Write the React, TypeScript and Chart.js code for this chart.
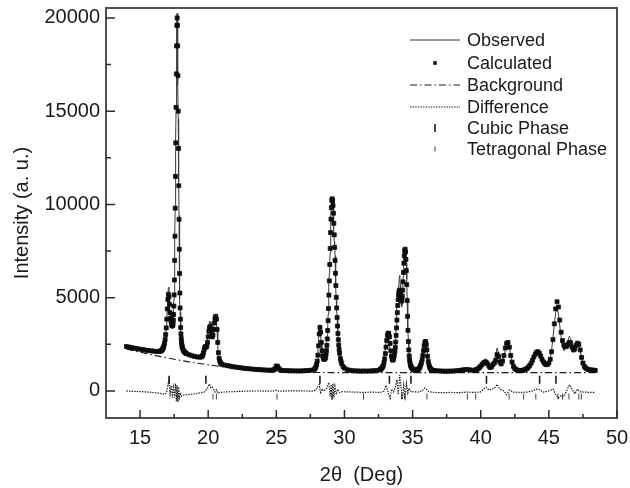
import React, { useEffect, useRef } from "react";
import { Chart, registerables } from "chart.js";

Chart.register(...registerables);

const FONT = '"Liberation Sans", Arial, Helvetica, sans-serif';
const INK = "#1a1a1a";

// 2θ sampling of the observed / calculated profile (degrees)
const twoTheta = [
  14.0, 14.2, 14.4, 14.6, 14.8, 15.0, 15.2, 15.4, 15.6, 15.8, 16.0, 16.2, 16.4,
  16.52, 16.56, 16.6, 16.64, 16.68, 16.72, 16.76, 16.8, 16.84, 16.88, 16.92, 16.96, 17.0, 17.04, 17.08, 17.12, 17.16, 17.2, 17.24, 17.28, 17.32, 17.36, 17.4,
  17.42, 17.44, 17.46, 17.48, 17.5, 17.52, 17.54, 17.56, 17.58, 17.6, 17.62, 17.64, 17.66, 17.68, 17.7, 17.72, 17.74, 17.76, 17.78, 17.8, 17.82, 17.84, 17.86, 17.88, 17.9, 17.92, 17.94, 17.96, 17.98, 18.0, 18.02, 18.04, 18.06, 18.08, 18.1,
  18.15, 18.2, 18.25, 18.3, 18.35, 18.4,
  18.6, 18.8, 19.0, 19.2, 19.4,
  19.5, 19.55, 19.6, 19.65, 19.7, 19.75, 19.8, 19.85, 19.9, 19.95, 20.0, 20.05, 20.1, 20.15, 20.2, 20.25, 20.3, 20.35, 20.4, 20.45, 20.5, 20.55, 20.6, 20.65, 20.7, 20.75, 20.8, 20.85, 20.9, 20.95, 21.0,
  21.2, 21.4, 21.6, 21.8, 22.0, 22.2, 22.4, 22.6, 22.8, 23.0, 23.2, 23.4, 23.6, 23.8, 24.0, 24.2, 24.4, 24.6,
  24.7, 24.8, 24.9, 25.0, 25.1, 25.2, 25.3, 25.4,
  25.6, 25.8, 26.0, 26.2, 26.4, 26.6, 26.8, 27.0, 27.2, 27.4, 27.6,
  27.8, 27.85, 27.9, 27.95, 28.0, 28.05, 28.1, 28.15, 28.2, 28.25, 28.3, 28.35, 28.4, 28.45, 28.5, 28.55,
  28.62, 28.65, 28.68, 28.71, 28.74, 28.77, 28.8, 28.83, 28.86, 28.89, 28.92, 28.95, 28.98, 29.01, 29.04, 29.07, 29.1, 29.13, 29.16, 29.19, 29.22, 29.25, 29.28, 29.31, 29.34, 29.37, 29.4, 29.43, 29.46, 29.49, 29.52, 29.55, 29.58, 29.61, 29.64,
  29.7, 29.75, 29.8, 29.9,
  30.0, 30.2, 30.4, 30.6, 30.8, 31.0, 31.2, 31.4, 31.6, 31.8, 32.0, 32.2, 32.4, 32.6,
  32.65, 32.7, 32.75, 32.8, 32.85, 32.9, 32.95, 33.0, 33.05, 33.1, 33.15, 33.2, 33.25, 33.3, 33.35, 33.4, 33.45, 33.5, 33.55, 33.6, 33.65,
  33.7, 33.73, 33.76, 33.79, 33.82, 33.85, 33.88, 33.91, 33.94, 33.97, 34.0, 34.03, 34.06, 34.09, 34.12, 34.15, 34.18, 34.21, 34.24, 34.27, 34.3, 34.33, 34.36, 34.39, 34.42, 34.45, 34.48, 34.51, 34.54, 34.57, 34.6, 34.63, 34.66, 34.69, 34.72, 34.75, 34.78, 34.81, 34.84, 34.87, 34.9,
  34.95, 35.0, 35.05, 35.1, 35.15, 35.2, 35.25, 35.3, 35.35, 35.4, 35.45, 35.5, 35.55, 35.6, 35.65, 35.7, 35.75, 35.8, 35.85, 35.9, 35.95, 36.0, 36.05, 36.1, 36.15, 36.2, 36.25, 36.3, 36.35, 36.4, 36.5, 36.6,
  36.8, 37.0, 37.2, 37.4, 37.6, 37.8, 38.0, 38.2, 38.4, 38.6, 38.8, 39.0, 39.2, 39.4, 39.6,
  39.7, 39.8, 39.9, 40.0, 40.1, 40.2, 40.3, 40.4, 40.5, 40.6,
  40.7, 40.8, 40.9, 41.0, 41.1, 41.2, 41.3, 41.4, 41.5, 41.6,
  41.7, 41.8, 41.9, 42.0, 42.1, 42.2, 42.3, 42.4, 42.5, 42.6,
  42.7, 42.8, 42.9, 43.0, 43.1, 43.2, 43.3, 43.4, 43.5, 43.6,
  43.7, 43.8, 43.9, 44.0, 44.1, 44.2, 44.3, 44.4, 44.5, 44.6,
  44.7, 44.8, 44.9, 45.0, 45.1, 45.2, 45.3, 45.4, 45.5, 45.6,
  45.7, 45.8, 45.9, 46.0, 46.1, 46.2, 46.3, 46.4, 46.5, 46.6,
  46.7, 46.8, 46.9, 47.0, 47.1, 47.2, 47.3, 47.4, 47.5, 47.6,
  47.7, 47.8, 47.9, 48.0, 48.1, 48.2, 48.3, 48.4,
];

const calculated = [
  2380, 2350, 2320, 2290, 2265, 2240, 2215, 2190, 2170, 2150, 2135, 2120, 2120,
  2140, 2160, 2190, 2230, 2280, 2350, 2440, 2570, 2760, 3020, 3380, 3850, 4400, 4900, 5180, 5050, 4650, 4200, 3900, 3700, 3550, 3480, 3520,
  3620, 3800, 4100, 4550, 5150, 5950, 7000, 8300, 9800, 11500, 13300, 15200, 17000, 18500, 19600, 20000, 19600, 18500, 16900, 15000, 13000, 11000, 9200, 7600, 6300, 5250, 4450, 3850, 3400, 3060, 2820, 2640, 2510, 2410, 2330,
  2220, 2150, 2100, 2060, 2030, 2000,
  1940, 1890, 1850, 1820, 1810,
  1830, 1860, 1920, 2030, 2200, 2340, 2380, 2350, 2400, 2600, 2900, 3200, 3400, 3450, 3300, 3050, 2900, 3000, 3300, 3650, 3900, 4000, 3850, 3300, 2600, 2050, 1750, 1600, 1510, 1460, 1430,
  1390, 1360, 1330, 1300, 1280, 1260, 1240, 1220, 1200, 1190, 1175, 1160, 1150, 1140, 1130, 1120, 1115, 1110,
  1110, 1125, 1190, 1340, 1320, 1190, 1120, 1095,
  1090, 1085, 1080, 1075, 1075, 1070, 1075, 1080, 1090, 1100, 1120,
  1160, 1210, 1290, 1410, 1600, 1920, 2420, 3050, 3400, 3150, 2600, 2150, 1880, 1750, 1700, 1700,
  1780, 1970, 2160, 2440, 2790, 3240, 3770, 4420, 5140, 5900, 6780, 7640, 8490, 9210, 9830, 10220, 10300, 10210, 9940, 9530, 8990, 8370, 7700, 7000, 6310, 5650, 5020, 4450, 3940, 3480, 3080, 2750, 2460, 2220, 2020,
  1740, 1580, 1460, 1300,
  1220, 1140, 1105, 1085, 1075, 1070, 1065, 1070, 1065, 1070, 1075, 1085, 1100, 1140,
  1160, 1190, 1230, 1290, 1380, 1520, 1720, 2000, 2350, 2700, 2980, 3100, 3080, 2900, 2550, 2150, 1850, 1700, 1650, 1720, 1880,
  2100, 2330, 2620, 2980, 3380, 3800, 4200, 4580, 4900, 5150, 5330, 5400, 5350, 5200, 5020, 4880, 4820, 4880, 5080, 5400, 5850, 6350, 6850, 7250, 7520, 7600, 7450, 7050, 6450, 5700, 4850, 4000, 3250, 2650, 2200, 1880, 1660, 1510, 1400, 1330, 1280,
  1220, 1180, 1150, 1130, 1120, 1115, 1115, 1120, 1130, 1150, 1180, 1230, 1300, 1400, 1520, 1680, 1900, 2160, 2420, 2600, 2650, 2500, 2200, 1860, 1580, 1400, 1280, 1200, 1160, 1130, 1100, 1090,
  1080, 1070, 1065, 1060, 1060, 1065, 1070, 1080, 1100, 1120, 1140, 1150, 1130, 1110, 1120,
  1150, 1190, 1250, 1330, 1420, 1500, 1550, 1540, 1450, 1330,
  1260, 1300, 1420, 1500, 1650, 1950, 1850, 1550, 1450, 1600,
  1900, 2300, 2550, 2600, 2350, 1900, 1550, 1320, 1200, 1140,
  1110, 1100, 1095, 1100, 1110, 1130, 1160, 1210, 1280, 1370,
  1500, 1650, 1820, 1970, 2080, 2100, 2020, 1870, 1700, 1560,
  1460, 1410, 1420, 1500, 1700, 2100, 2750, 3600, 4400, 4780,
  4500, 3800, 3150, 2700, 2450, 2370, 2400, 2500, 2600, 2580,
  2350, 2200, 2250, 2450, 2560, 2500, 2200, 1800, 1500, 1320,
  1230, 1180, 1150, 1130, 1120, 1110, 1110, 1100,
];

const observed = [
  2395, 2340, 2330, 2280, 2270, 2230, 2220, 2180, 2175, 2140, 2140, 2110, 2115,
  2130, 2150, 2180, 2215, 2260, 2330, 2410, 2540, 2720, 2980, 3340, 3800, 4450, 5150, 5550, 5500, 4700, 4050, 3950, 3950, 3700, 3350, 3400,
  3550, 3900, 4250, 4650, 5000, 5650, 6700, 8200, 9900, 11800, 13600, 15000, 16500, 18200, 19700, 20250, 19800, 18300, 16400, 14600, 12900, 11200, 9400, 7500, 5900, 4900, 4250, 3750, 3250, 2900, 2650, 2480, 2380, 2300, 2240,
  2160, 2090, 2040, 2000, 1970, 1940,
  1880, 1840, 1800, 1780, 1780,
  1800, 1840, 1900, 2010, 2170, 2330, 2420, 2450, 2560, 2820, 3150, 3520, 3750, 3700, 3450, 3250, 3100, 3150, 3380, 3650, 3850, 4050, 3900, 3250, 2480, 1950, 1680, 1530, 1440, 1400, 1380,
  1350, 1320, 1300, 1270, 1255, 1240, 1225, 1205, 1190, 1180, 1170, 1160, 1150, 1135, 1125, 1115, 1110, 1110,
  1105, 1125, 1210, 1380, 1330, 1170, 1110, 1095,
  1090, 1085, 1085, 1080, 1085, 1070, 1075, 1080, 1085, 1095, 1115,
  1170, 1230, 1330, 1470, 1700, 2150, 2750, 3400, 3550, 3000, 2500, 2250, 1950, 1780, 1700, 1720,
  1830, 2050, 2280, 2600, 3000, 3500, 4100, 4800, 5550, 6300, 7000, 7400, 8250, 9400, 10100, 10100, 9900, 10300, 10300, 9850, 8700, 8000, 7850, 7250, 6400, 5550, 4850, 4350, 3950, 3550, 3150, 2800, 2470, 2190, 1980,
  1680, 1530, 1420, 1270,
  1180, 1100, 1060, 1030, 1020, 1010, 1000, 995, 1000, 1010, 1015, 1020, 1030, 1060,
  1090, 1130, 1180, 1260, 1380, 1550, 1850, 2250, 2650, 2950, 3100, 3050, 2850, 2550, 2150, 1900, 1900, 1750, 1630, 1680, 1900,
  2200, 2500, 2850, 3300, 3850, 4400, 4700, 4600, 4700, 5000, 5700, 6100, 6200, 5700, 5200, 4800, 4600, 4500, 4650, 5200, 6100, 6650, 7050, 7200, 7300, 7350, 7500, 7400, 6850, 6000, 4900, 3950, 3300, 2750, 2300, 1950, 1700, 1500, 1370, 1300, 1250,
  1180, 1140, 1110, 1090, 1080, 1070, 1070, 1070, 1080, 1100, 1130, 1190, 1270, 1390, 1530, 1700, 1940, 2230, 2540, 2750, 2770, 2600, 2220, 1850, 1560, 1370, 1240, 1160, 1110, 1080, 1040, 1020,
  1000, 990, 980, 975, 980, 985, 985, 995, 1010, 1040, 1070, 1090, 1060, 1030, 1040,
  1080, 1130, 1200, 1290, 1450, 1580, 1700, 1720, 1540, 1380,
  1330, 1380, 1530, 1650, 1900, 2300, 2050, 1650, 1480, 1580,
  1880, 2200, 2350, 2550, 2400, 1900, 1500, 1260, 1140, 1070,
  1040, 1020, 1015, 1025, 1040, 1060, 1100, 1150, 1220, 1320,
  1470, 1650, 1850, 2030, 2180, 2200, 2100, 1900, 1690, 1500,
  1400, 1360, 1400, 1500, 1740, 2180, 2850, 3550, 4200, 4450,
  4120, 3500, 2900, 2450, 2150, 2250, 2400, 2680, 2930, 2800,
  2450, 2100, 2100, 2450, 2660, 2520, 2160, 1750, 1450, 1260,
  1160, 1110, 1080, 1050, 1040, 1030, 1030, 1020,
];

// background curve
const bgTheta = [14.0, 14.5, 15.0, 15.5, 16.0, 16.5, 17.0, 17.5, 18.0, 18.5, 19.0, 19.5, 20.0, 20.5, 21.0, 21.5, 22.0, 22.5, 23.0, 23.5, 24.0, 24.5, 25.0, 26.0, 27.0, 28.0, 29.0, 30.0, 48.4];
const background = [2250, 2160, 2080, 2000, 1920, 1840, 1770, 1700, 1630, 1570, 1510, 1455, 1400, 1350, 1300, 1255, 1215, 1180, 1145, 1115, 1090, 1070, 1050, 1020, 1000, 990, 985, 980, 980];

// difference curve (observed − calculated), plotted around 0
const diffTheta = [
  14.0, 14.4, 14.8, 15.2, 15.6, 16.0, 16.4, 16.8, 16.95, 17.05,
  17.12, 17.2, 17.28, 17.36, 17.44, 17.52, 17.6, 17.66, 17.72, 17.78,
  17.84, 17.9, 17.96, 18.05, 18.2, 18.5, 18.8, 19.1, 19.4, 19.7,
  19.9, 20.0, 20.1, 20.2, 20.3, 20.4, 20.5, 20.6, 20.7, 20.9,
  21.3, 21.8, 22.4, 23.0, 23.6, 24.2, 24.8, 25.0, 25.2, 25.8,
  26.4, 27.0, 27.6, 27.9, 28.05, 28.15, 28.25, 28.35, 28.5, 28.7,
  28.85, 28.95, 29.02, 29.08, 29.15, 29.22, 29.3, 29.4, 29.5, 29.65,
  29.85, 30.2, 30.8, 31.4, 32.0, 32.6, 32.9, 33.05, 33.2, 33.35,
  33.45, 33.6, 33.75, 33.85, 33.95, 34.05, 34.15, 34.25, 34.35, 34.45,
  34.55, 34.65, 34.75, 34.9, 35.1, 35.4, 35.7, 35.9, 36.0, 36.2,
  36.6, 37.2, 37.8, 38.4, 39.0, 39.6, 40.0, 40.2, 40.4, 40.6,
  40.8, 41.0, 41.2, 41.4, 41.7, 41.9, 42.1, 42.4, 42.9, 43.4,
  43.8, 44.1, 44.3, 44.6, 45.0, 45.3, 45.5, 45.7, 45.9, 46.1,
  46.3, 46.5, 46.7, 46.9, 47.1, 47.3, 47.6, 48.0, 48.4,
];
const difference = [
  0, -20, -30, -40, -60, -90, -120, -170, -100, 350,
  550, -150, 300, -200, 200, -350, 400, -550, 300, -600,
  200, -450, -100, -280, -220, -200, -170, -150, -100, -60,
  100, 250, 370, 150, 200, 80, -60, 60, -120, -80,
  -50, -40, -20, -10, 0, -10, 0, 40, -20, 0,
  10, 0, -10, 40, 250, 350, -150, 100, 0, 150,
  450, -300, 350, -450, 400, -350, 250, -200, 100, -80,
  -40, -50, -60, -80, -60, -80, -20, 300, -100, -400,
  100, -50, 250, 600, -200, 850, 200, -450, 300, -300,
  400, -100, 150, -50, -40, -60, 0, 150, 100, -40,
  -80, -90, -80, -90, -60, -80, -50, 100, 200, 50,
  80, 150, 350, 100, 0, -200, 50, -60, -80, -60,
  0, 100, 80, -60, 0, 100, -200, -380, -250, -300,
  0, 330, 100, -150, 100, -40, -60, -80, -80,
];

// Bragg reflection markers
const cubicPeaks = [17.13, 19.83, 28.2, 33.3, 34.88, 40.42, 44.32, 45.52];
const tetragonalPeaks = [17.72, 20.35, 20.6, 25.05, 29.1, 31.4, 34.2, 34.42, 36.05, 39.02, 39.63, 42.08, 43.15, 44.04, 45.67, 46.0, 46.47, 47.2, 47.38];
const cubicLevel = 600;
const tetragonalLevel = -300;

// axes
const xMin = 12.5;
const xMax = 50;
const yMin = -1450;
const yMax = 20530;
const xTicks = [15, 20, 25, 30, 35, 40, 45, 50];
const xMinorTicks = [17.5, 22.5, 27.5, 32.5, 37.5, 42.5, 47.5];
const yTicks = [0, 5000, 10000, 15000, 20000];
const yMinorTicks = [2500, 7500, 12500, 17500];
const xTitle = "2θ  (Deg)";
const yTitle = "Intensity (a. u.)";
const legendLabels = ["Observed", "Calculated", "Background", "Difference", "Cubic Phase", "Tetragonal Phase"];

const BG_DASH = [7, 3, 1.5, 3];
const DIFF_DASH = [1.4, 1.2];

function toPoints(xs: number[], ys: number[]) {
  return xs.map((x, i) => ({ x, y: ys[i] }));
}

const overlayPlugin = {
  id: "frameTicksLegend",
  afterDraw(chart: any) {
    const { ctx, chartArea: a, scales } = chart;
    const xs = scales.x;
    const ys = scales.y;
    ctx.save();
    // frame
    ctx.strokeStyle = "#505050";
    ctx.lineWidth = 2;
    ctx.setLineDash([]);
    ctx.strokeRect(a.left, a.top, a.right - a.left, a.bottom - a.top);
    // inward ticks
    ctx.strokeStyle = "#2a2a2a";
    ctx.lineWidth = 1.5;
    ctx.beginPath();
    xTicks.forEach((v) => {
      const p = xs.getPixelForValue(v);
      ctx.moveTo(p, a.bottom);
      ctx.lineTo(p, a.bottom - 8);
    });
    xMinorTicks.forEach((v) => {
      const p = xs.getPixelForValue(v);
      ctx.moveTo(p, a.bottom);
      ctx.lineTo(p, a.bottom - 4);
    });
    yTicks.forEach((v) => {
      const p = ys.getPixelForValue(v);
      ctx.moveTo(a.left, p);
      ctx.lineTo(a.left + 9, p);
    });
    yMinorTicks.forEach((v) => {
      const p = ys.getPixelForValue(v);
      ctx.moveTo(a.left, p);
      ctx.lineTo(a.left + 5, p);
    });
    ctx.stroke();

    // legend
    const lx0 = a.left + 304;
    const lx1 = a.left + 354;
    const mx = (lx0 + lx1) / 2;
    const tx = a.left + 361;
    const rows = [32, 55, 77, 99, 120, 141].map((d) => a.top + d);
    const line = (x0: number, y0: number, x1: number, y1: number) => {
      ctx.beginPath();
      ctx.moveTo(x0, y0);
      ctx.lineTo(x1, y1);
      ctx.stroke();
    };
    ctx.lineWidth = 1;
    ctx.strokeStyle = "#3a3a3a";
    line(lx0, rows[0], lx1, rows[0]);
    ctx.fillStyle = "#111";
    ctx.fillRect(mx - 1.8, rows[1] - 1.8, 3.6, 3.6);
    ctx.strokeStyle = INK;
    ctx.setLineDash(BG_DASH);
    line(lx0, rows[2], lx1, rows[2]);
    ctx.lineWidth = 1.2;
    ctx.setLineDash(DIFF_DASH);
    line(lx0, rows[3], lx1, rows[3]);
    ctx.setLineDash([]);
    ctx.lineWidth = 1.6;
    line(mx, rows[4] - 4, mx, rows[4] + 4);
    ctx.lineWidth = 1;
    ctx.strokeStyle = "#444";
    line(mx, rows[5] - 2.5, mx, rows[5] + 2.5);

    ctx.fillStyle = INK;
    ctx.font = `18px ${FONT}`;
    ctx.textAlign = "left";
    ctx.textBaseline = "middle";
    legendLabels.forEach((t, i) => ctx.fillText(t, tx, rows[i] + 1));
    ctx.restore();
  },
};

export default function App() {
  const ref = useRef<HTMLCanvasElement>(null);

  useEffect(() => {
    const canvas = ref.current;
    if (!canvas) return;
    const chart = new Chart(canvas, {
      type: "scatter",
      data: {
        datasets: [
          {
            label: legendLabels[1],
            data: toPoints(twoTheta, calculated),
            showLine: false,
            pointStyle: "rect",
            pointRadius: 2.8,
            pointBackgroundColor: "#0d0d0d",
            pointBorderColor: "#0d0d0d",
            pointBorderWidth: 0.8,
          },
          {
            label: legendLabels[0],
            data: toPoints(twoTheta, observed),
            showLine: true,
            borderColor: "#3a3a3a",
            borderWidth: 1,
            pointRadius: 0,
          },
          {
            label: legendLabels[2],
            data: toPoints(bgTheta, background),
            showLine: true,
            borderColor: INK,
            borderWidth: 1.1,
            borderDash: BG_DASH,
            pointRadius: 0,
          },
          {
            label: legendLabels[3],
            data: toPoints(diffTheta, difference),
            showLine: true,
            borderColor: INK,
            borderWidth: 1.2,
            borderDash: DIFF_DASH,
            pointRadius: 0,
          },
          {
            label: legendLabels[4],
            data: cubicPeaks.map((x) => ({ x, y: cubicLevel })),
            showLine: false,
            pointStyle: "line",
            pointRotation: 90,
            pointRadius: 4,
            pointBorderWidth: 1.6,
            pointBorderColor: INK,
          },
          {
            label: legendLabels[5],
            data: tetragonalPeaks.map((x) => ({ x, y: tetragonalLevel })),
            showLine: false,
            pointStyle: "line",
            pointRotation: 90,
            pointRadius: 3,
            pointBorderWidth: 1,
            pointBorderColor: "#444",
          },
        ],
      } as any,
      options: {
        animation: false,
        responsive: false,
        devicePixelRatio: 1,
        events: [],
        layout: { padding: { left: 0, top: 8, right: 13, bottom: 0 } },
        plugins: { legend: { display: false }, tooltip: { enabled: false } },
        scales: {
          x: {
            type: "linear",
            min: xMin,
            max: xMax,
            grid: { display: false, drawTicks: false },
            border: { display: false },
            ticks: {
              font: { family: FONT, size: 20 },
              color: INK,
              padding: 8,
              autoSkip: false,
              maxRotation: 0,
              callback: (v: any) => String(v),
            },
            title: {
              display: true,
              text: xTitle,
              font: { family: FONT, size: 20 },
              color: INK,
              padding: { top: 0, bottom: 1 },
            },
            afterBuildTicks: (s: any) => {
              s.ticks = xTicks.map((v) => ({ value: v }));
            },
            afterFit: (s: any) => {
              s.height = 70;
              s.paddingLeft = 0;
              s.paddingRight = 0;
              s.paddingTop = 0;
              s.paddingBottom = 0;
            },
          },
          y: {
            type: "linear",
            min: yMin,
            max: yMax,
            grid: { display: false, drawTicks: false },
            border: { display: false },
            ticks: {
              font: { family: FONT, size: 20 },
              color: INK,
              padding: 6,
              autoSkip: false,
              callback: (v: any) => String(v),
            },
            title: {
              display: true,
              text: yTitle,
              font: { family: FONT, size: 20 },
              color: INK,
              padding: { top: 10, bottom: 0 },
            },
            afterBuildTicks: (s: any) => {
              s.ticks = yTicks.map((v) => ({ value: v }));
            },
            afterFit: (s: any) => {
              s.width = 106;
              s.paddingLeft = 0;
              s.paddingRight = 0;
              s.paddingTop = 0;
              s.paddingBottom = 0;
            },
          },
        },
      } as any,
      plugins: [overlayPlugin],
    });
    return () => chart.destroy();
  }, []);

  return (
    <div style={{ position: "absolute", left: 0, top: 0, width: 630, height: 488, background: "#fff" }}>
      <canvas ref={ref} width={630} height={488} style={{ display: "block" }} />
    </div>
  );
}
